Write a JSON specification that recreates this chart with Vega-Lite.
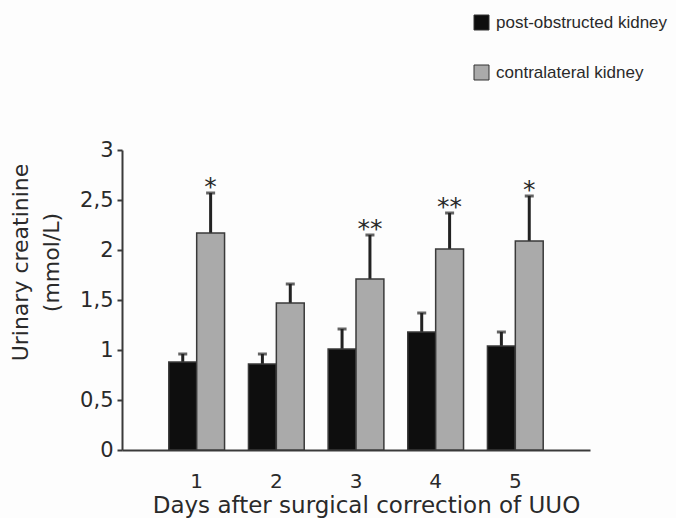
{
  "$schema": "https://vega.github.io/schema/vega-lite/v6.json",
  "width": 468,
  "height": 300,
  "autosize": {"type": "none"},
  "padding": {"left": 122, "top": 150, "right": 86, "bottom": 68},
  "background": "#fdfdfd",
  "config": {
    "view": {"stroke": null},
    "font": "DejaVu Sans",
    "axis": {"grid": false, "domainColor": "#3a3a3a", "domainWidth": 2, "tickColor": "#3a3a3a", "tickWidth": 2, "labelColor": "#2a2a2a", "titleColor": "#2a2a2a", "titleFontWeight": "normal"}
  },
  "data": {
    "values": [
      {"day": "1", "group": "post-obstructed kidney", "value": 0.88, "upper": 0.96, "star": ""},
      {"day": "1", "group": "contralateral kidney", "value": 2.17, "upper": 2.57, "star": "*"},
      {"day": "2", "group": "post-obstructed kidney", "value": 0.86, "upper": 0.96, "star": ""},
      {"day": "2", "group": "contralateral kidney", "value": 1.47, "upper": 1.66, "star": ""},
      {"day": "3", "group": "post-obstructed kidney", "value": 1.01, "upper": 1.21, "star": ""},
      {"day": "3", "group": "contralateral kidney", "value": 1.71, "upper": 2.15, "star": "**"},
      {"day": "4", "group": "post-obstructed kidney", "value": 1.18, "upper": 1.37, "star": ""},
      {"day": "4", "group": "contralateral kidney", "value": 2.01, "upper": 2.37, "star": "**"},
      {"day": "5", "group": "post-obstructed kidney", "value": 1.04, "upper": 1.18, "star": ""},
      {"day": "5", "group": "contralateral kidney", "value": 2.09, "upper": 2.54, "star": "*"}
    ]
  },
  "encoding": {
    "x": {
      "field": "day", "type": "nominal",
      "scale": {"paddingInner": 0.3, "paddingOuter": 0.5875},
      "title": "Days after surgical correction of UUO",
      "axis": {"labelAngle": 0, "ticks": false, "labelFontSize": 20, "labelPadding": 21, "titleFontSize": 23, "titlePadding": 3, "titleX": 244}
    },
    "xOffset": {
      "field": "group", "type": "nominal",
      "sort": ["post-obstructed kidney", "contralateral kidney"],
      "scale": {"paddingInner": 0, "paddingOuter": 0}
    }
  },
  "layer": [
    {
      "mark": {"type": "rule", "strokeWidth": 3, "color": "#222"},
      "encoding": {
        "y": {"field": "value", "type": "quantitative", "title": ["Urinary creatinine", "(mmol/L)"]},
        "y2": {"field": "upper"}
      }
    },
    {
      "mark": {"type": "tick", "thickness": 3, "size": 9, "color": "#222"},
      "encoding": {
        "y": {"field": "upper", "type": "quantitative", "title": ["Urinary creatinine", "(mmol/L)"]}
      }
    },
    {
      "mark": {"type": "bar", "stroke": "#3a3a3a", "strokeWidth": 1.5},
      "encoding": {
        "y": {
          "field": "value", "type": "quantitative",
          "scale": {"domain": [0, 3]},
          "title": ["Urinary creatinine", "(mmol/L)"],
          "axis": {
            "values": [0, 0.5, 1, 1.5, 2, 2.5, 3],
            "labelExpr": "replace(toString(datum.value), '.', ',')",
            "labelFontSize": 21, "labelPadding": 4, "tickSize": 5,
            "titleFont": "DejaVu Sans", "titleFontSize": 22, "titleLineHeight": 31,
            "titleX": -90, "titleY": 112
          }
        },
        "color": {
          "field": "group", "type": "nominal",
          "sort": ["post-obstructed kidney", "contralateral kidney"],
          "scale": {"range": ["#0e0e0e", "#aaaaaa"]},
          "legend": {
            "title": null, "orient": "none", "legendX": 351, "legendY": -136,
            "symbolType": "square", "symbolSize": 225, "symbolStrokeColor": "#333", "symbolStrokeWidth": 1,
            "labelFont": "Liberation Sans", "labelFontSize": 17, "labelColor": "#2a2a2a", "labelOffset": 6, "labelLimit": 400,
            "rowPadding": 31, "padding": 0
          }
        }
      }
    },
    {
      "mark": {"type": "text", "fontSize": 25, "baseline": "alphabetic", "dy": 2, "color": "#2a2a2a"},
      "encoding": {
        "y": {"field": "upper", "type": "quantitative", "title": ["Urinary creatinine", "(mmol/L)"]},
        "text": {"field": "star"}
      }
    }
  ]
}
